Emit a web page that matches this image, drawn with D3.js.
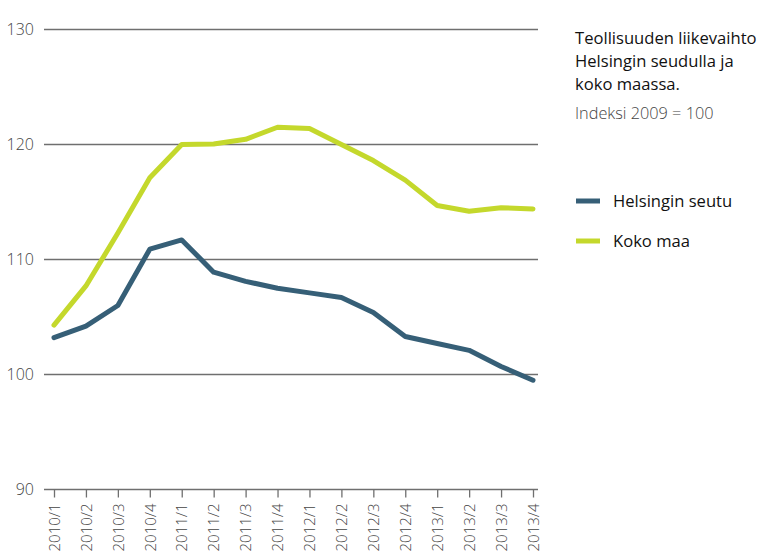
<!DOCTYPE html>
<html><head><meta charset="utf-8">
<script src="https://cdn.jsdelivr.net/npm/d3@7"></script>
<style>body{margin:0;background:#fff}svg{display:block}text{font-family:"Open Sans","Noto Sans",sans-serif}</style>
</head><body>
<script>
const categories = ["2010/1","2010/2","2010/3","2010/4","2011/1","2011/2","2011/3","2011/4","2012/1","2012/2","2012/3","2012/4","2013/1","2013/2","2013/3","2013/4"];
const helsinki = [103.2,104.2,106.0,110.9,111.7,108.9,108.1,107.5,107.1,106.7,105.4,103.3,102.7,102.1,100.7,99.5];
const kokoMaa = [104.3,107.7,112.3,117.1,120.0,120.05,120.45,121.5,121.4,120.0,118.6,116.9,114.7,114.2,114.5,114.4];
const yTicks = [90,100,110,120,130];
const titleLines = ["Teollisuuden liikevaihto","Helsingin seudulla ja","koko maassa."];
const subtitle = "Indeksi 2009 = 100";
const seriesNames = ["Helsingin seutu","Koko maa"];
const colors = ["#365f77","#c4d82c"];

const W=760,H=556;
const svg=d3.select("body").append("svg").attr("width",W).attr("height",H);
const x=d3.scalePoint().domain(categories).range([54,533]);
const y=d3.scaleLinear().domain([90,130]).range([489.5,29.5]);

// grid
const g=svg.append("g");
g.selectAll("line.grid").data(yTicks).join("line")
 .attr("x1",44).attr("x2",538).attr("y1",d=>y(d)).attr("y2",d=>y(d))
 .attr("stroke","#6f6f6f").attr("stroke-width",1.3);
g.selectAll("text.yl").data(yTicks).join("text")
 .attr("x",34).attr("y",d=>y(d)).attr("dy","0.35em").attr("text-anchor","end")
 .attr("font-size",16).attr("font-weight",300).attr("fill","#444").text(d=>d);

// x axis ticks
const xa=svg.append("g").attr("transform",`translate(0,${y(90)})`)
 .call(d3.axisBottom(x).tickSize(8).tickSizeOuter(0));
xa.select(".domain").remove();
xa.selectAll(".tick line").attr("stroke","#6f6f6f").attr("stroke-width",1.3);
xa.selectAll(".tick text").attr("font-size",15).attr("font-weight",300).attr("fill","#444")
 .attr("font-family","'Open Sans','Noto Sans',sans-serif")
 .attr("transform","rotate(-90)").attr("text-anchor","end")
 .attr("x",-14).attr("y",0).attr("dy","0.35em");

// lines
const line=d3.line().x((d,i)=>x(categories[i])).y(d=>y(d));
[helsinki,kokoMaa].forEach((s,k)=>{
 svg.append("path").datum(s).attr("d",line).attr("fill","none")
  .attr("stroke",colors[k]).attr("stroke-width",5).attr("stroke-linejoin","round").attr("stroke-linecap","round");
});

// title
svg.selectAll("text.t").data(titleLines).join("text")
 .attr("x",575).attr("y",(d,i)=>44+i*23).attr("font-size",16.6).attr("font-weight",500).attr("fill","#111").text(d=>d);
svg.append("text").attr("x",575).attr("y",119).attr("font-size",16.3).attr("fill","#444").attr("font-weight",300).text(subtitle);

// legend
seriesNames.forEach((n,i)=>{
 const yy=201+i*40;
 svg.append("line").attr("x1",576).attr("x2",600).attr("y1",yy).attr("y2",yy).attr("stroke",colors[i]).attr("stroke-width",5);
 svg.append("text").attr("x",613).attr("y",yy).attr("dy","0.35em").attr("font-size",16.6).attr("fill","#111").text(n);
});
</script>
</body></html>
